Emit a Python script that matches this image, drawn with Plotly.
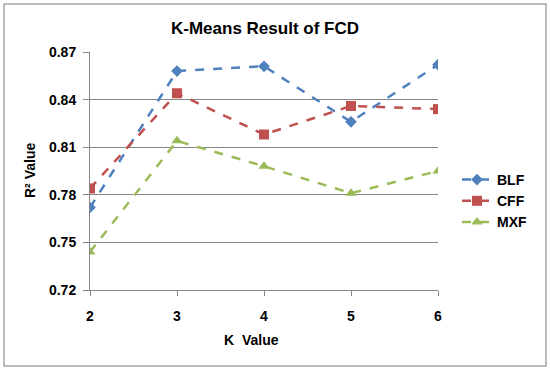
import plotly.graph_objects as go

k_values = [2, 3, 4, 5, 6]
blf = [0.772, 0.858, 0.861, 0.826, 0.862]
cff = [0.784, 0.844, 0.818, 0.836, 0.834]
mxf = [0.744, 0.814, 0.798, 0.781, 0.795]
y_ticks = [0.72, 0.75, 0.78, 0.81, 0.84, 0.87]

series = [
    ("BLF", blf, "#4F81BD", "diamond", 9),
    ("CFF", cff, "#C0504D", "square", 10),
    ("MXF", mxf, "#9BBB59", "triangle-up", 10),
]

fig = go.Figure()
for name, vals, color, sym, size in series:
    fig.add_trace(go.Scatter(
        x=k_values, y=vals, name=f"<b>{name}</b>", mode="lines+markers",
        line=dict(color=color, width=2.5, dash="dash"),
        marker=dict(symbol=sym, size=size, color=color),
    ))

font = "Liberation Sans, Arial, sans-serif"
L, R, T, B = 90, 112, 52, 81
W, H = 550 - L - R, 371 - T - B

fig.update_layout(
    width=550, height=371,
    margin=dict(l=L, r=R, t=T, b=B),
    paper_bgcolor="white", plot_bgcolor="white",
    font=dict(family=font, size=14, color="black"),
    title=dict(text="<b>K-Means Result of FCD</b>", x=265 / 550, xanchor="center",
               y=1 - 28 / 371, yanchor="middle", font=dict(size=17, family=font)),
    xaxis=dict(range=[2, 6], tickvals=k_values, ticktext=[f"<b>{k}</b>" for k in k_values],
               showgrid=False, zeroline=False, showline=True, linecolor="#868686", linewidth=1,
               ticks="outside", ticklen=5, tickcolor="#868686", automargin=False,
               ticklabelstandoff=8, tickfont=dict(size=14)),
    yaxis=dict(range=[0.72, 0.87], tickvals=y_ticks, ticktext=[f"<b>{v:.2f}</b>" for v in y_ticks],
               showgrid=True, gridcolor="#868686", gridwidth=1, zeroline=False,
               showline=True, linecolor="#868686", linewidth=1,
               ticks="outside", ticklen=6, tickcolor="#868686", automargin=False,
               ticklabelstandoff=4, tickfont=dict(size=14)),
    legend=dict(x=(457 - L) / W, y=1 - (201 - T) / H, xanchor="left", yanchor="middle",
                font=dict(size=14), itemwidth=30, bgcolor="rgba(0,0,0,0)"),
    showlegend=True,
)
fig.add_annotation(text="<b>K  Value</b>", xref="paper", yref="paper",
                   x=(251 - L) / W, y=-(340 - 290) / H, xanchor="center", yanchor="middle",
                   showarrow=False, font=dict(size=14))
fig.add_annotation(text="<b>R² Value</b>", xref="paper", yref="paper",
                   x=-(L - 30) / W, y=1 - (170 - T) / H, xanchor="center", yanchor="middle",
                   showarrow=False, textangle=-90, font=dict(size=14))
fig.add_shape(type="rect", xref="paper", yref="paper",
              x0=-(L - 4) / W, x1=(546 - L) / W, y0=-(366 - 290) / H, y1=(290 - 4) / H,
              line=dict(color="#A6A6A6", width=1.5), layer="below")

fig.write_html("out.html", config={"displayModeBar": False},
               post_script="document.body.style.margin='0';")
